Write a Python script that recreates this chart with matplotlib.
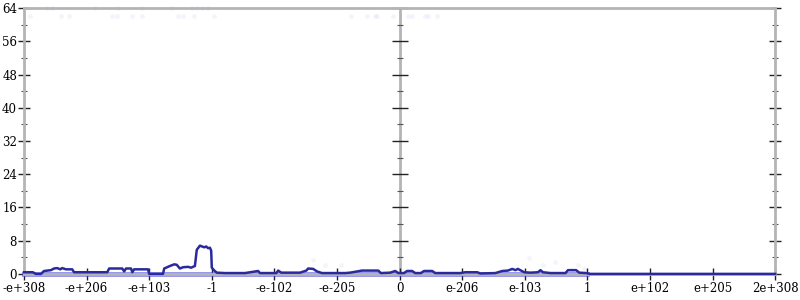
import matplotlib
matplotlib.use("Agg")
import matplotlib.pyplot as plt
import numpy as np

# tick positions along the (piecewise) float axis, with their labels
TICK_POS = [-6, -5, -4, -3, -2, -1, 0, 1, 2, 3, 4, 5, 6]
TICK_LABELS = ["-e+308", "-e+206", "-e+103", "-1", "-e-102", "-e-205", "0",
               "e-206", "e-103", "1", "e+102", "e+205", "2e+308"]
Y_MAJOR = [0, 8, 16, 24, 32, 40, 48, 56, 64]
Y_MINOR = [4, 12, 20, 28, 36, 44, 52, 60]

# main curve
LINE_X = [-6.00, -5.86, -5.81, -5.73, -5.68, -5.57, -5.52, -5.47, -5.42, -5.39,
          -5.33, -5.23, -5.20, -4.67, -4.64, -4.43, -4.40, -4.37, -4.29, -4.27,
          -4.24, -4.02, -4.00, -3.78, -3.76, -3.67, -3.60, -3.56, -3.51, -3.46,
          -3.38, -3.33, -3.27, -3.24, -3.19, -3.12, -3.09, -3.06, -3.03, -3.01,
          -3.00, -2.96, -2.92, -2.79, -2.47, -2.26, -2.23, -1.97, -1.94, -1.89,
          -1.59, -1.49, -1.46, -1.38, -1.32, -1.24, -0.87, -0.79, -0.60, -0.34,
          -0.30, -0.15, -0.07, -0.02, 0.00, 0.07, 0.12, 0.20, 0.25, 0.34,
          0.39, 0.52, 0.57, 0.97, 1.05, 1.24, 1.29, 1.53, 1.64, 1.73,
          1.80, 1.85, 1.89, 1.94, 1.99, 2.09, 2.21, 2.25, 2.29, 2.41,
          2.65, 2.69, 2.82, 2.87, 2.98, 3.04, 6.00]
LINE_Y = [0.4, 0.4, 0.0, 0.0, 0.7, 0.9, 1.3, 1.4, 1.1, 1.4,
          1.1, 1.1, 0.4, 0.4, 1.3, 1.3, 0.6, 1.3, 1.3, 0.4,
          1.1, 1.1, 0.0, 0.0, 1.3, 1.9, 2.3, 2.2, 1.3, 1.6,
          1.7, 1.5, 1.9, 5.8, 6.8, 6.4, 6.6, 6.2, 6.3, 5.6,
          1.5, 0.8, 0.3, 0.2, 0.2, 0.7, 0.2, 0.2, 0.8, 0.3,
          0.3, 0.8, 1.3, 1.2, 0.6, 0.2, 0.2, 0.3, 0.8, 0.8,
          0.2, 0.3, 0.7, 0.2, 0.2, 0.2, 0.7, 0.7, 0.2, 0.2,
          0.7, 0.7, 0.2, 0.2, 0.4, 0.4, 0.1, 0.2, 0.7, 0.8,
          1.2, 0.9, 1.2, 0.8, 0.4, 0.3, 0.4, 0.9, 0.4, 0.2,
          0.2, 0.9, 0.9, 0.3, 0.2, 0.0, 0.0]

# light band of samples along zero
BAND_X = [-6.0, 3.0]
BAND_Y = [0.0, 0.0]

# faint scattered samples
DOT_X = [-5.63, -5.55, -4.87, -4.50, -4.11, -3.63, -3.32, -3.24, -3.16, -3.06,
         -5.90, -5.41, -5.28, -4.59, -4.51, -4.27, -4.11, -3.54, -3.46, -3.28,
         -2.96, -0.77, -0.52, -0.39, -0.36, -0.10, 0.14, 0.20, 0.41, 0.46, 0.60,
         -1.38, -1.19, -0.94, 2.07, 2.29, 2.48, 2.85, 2.95, 2.75]
DOT_Y = [64, 64, 64, 64, 64, 64, 64, 64, 64, 64,
         62, 62, 62, 62, 62, 62, 62, 62, 62, 62,
         62, 62, 62, 62, 62, 62, 62, 62, 62, 62, 62,
         3.4, 2.2, 2.2, 3.9, 2.2, 2.8, 2.2, 1.2, 1.0]

BLUE = "#2a2a9e"
GREY = "#b4b4b4"

plt.rcParams["font.family"] = ["DejaVu Serif"]

fig = plt.figure(figsize=(8, 3), dpi=100)
ax = fig.add_axes([0.03, 0.087, 0.939, 0.886])

ax.scatter(DOT_X, DOT_Y, s=12, color="#9a9af0", alpha=0.1, lw=0, clip_on=False)
ax.plot(BAND_X, BAND_Y, color="#4848e0", lw=3.5, alpha=0.6, clip_on=False)
ax.plot(LINE_X, LINE_Y, color=BLUE, lw=1.8, clip_on=False, zorder=3)

ax.set_xlim(-6, 6)
ax.set_ylim(0, 64)

for s in ax.spines.values():
    s.set_color(GREY)
    s.set_linewidth(2)
ax.axvline(0, color=GREY, lw=2, zorder=0)

ax.set_xticks(TICK_POS)
ax.set_xticklabels(TICK_LABELS)
ax.set_yticks(Y_MAJOR)
ax.set_yticks(Y_MINOR, minor=True)
ax.tick_params(axis="x", direction="inout", length=9, width=1, color="#222222",
               labelsize=8.5, pad=1.5)
ax.tick_params(axis="y", which="major", direction="inout", length=9, width=1,
               color="#222222", labelsize=8.5, pad=0.5, right=True)
ax.tick_params(axis="y", which="minor", direction="inout", length=5, width=0.8,
               color="#555555", right=True)

# ticks on the centre axis
ax.plot([0] * len(Y_MAJOR), Y_MAJOR, ls="none", marker="_", ms=11, mew=1,
        color="#222222", clip_on=False, zorder=2)
ax.plot([0] * len(Y_MINOR), Y_MINOR, ls="none", marker="_", ms=5, mew=0.8,
        color="#555555", clip_on=False, zorder=2)

fig.savefig("out.png", dpi=100)
